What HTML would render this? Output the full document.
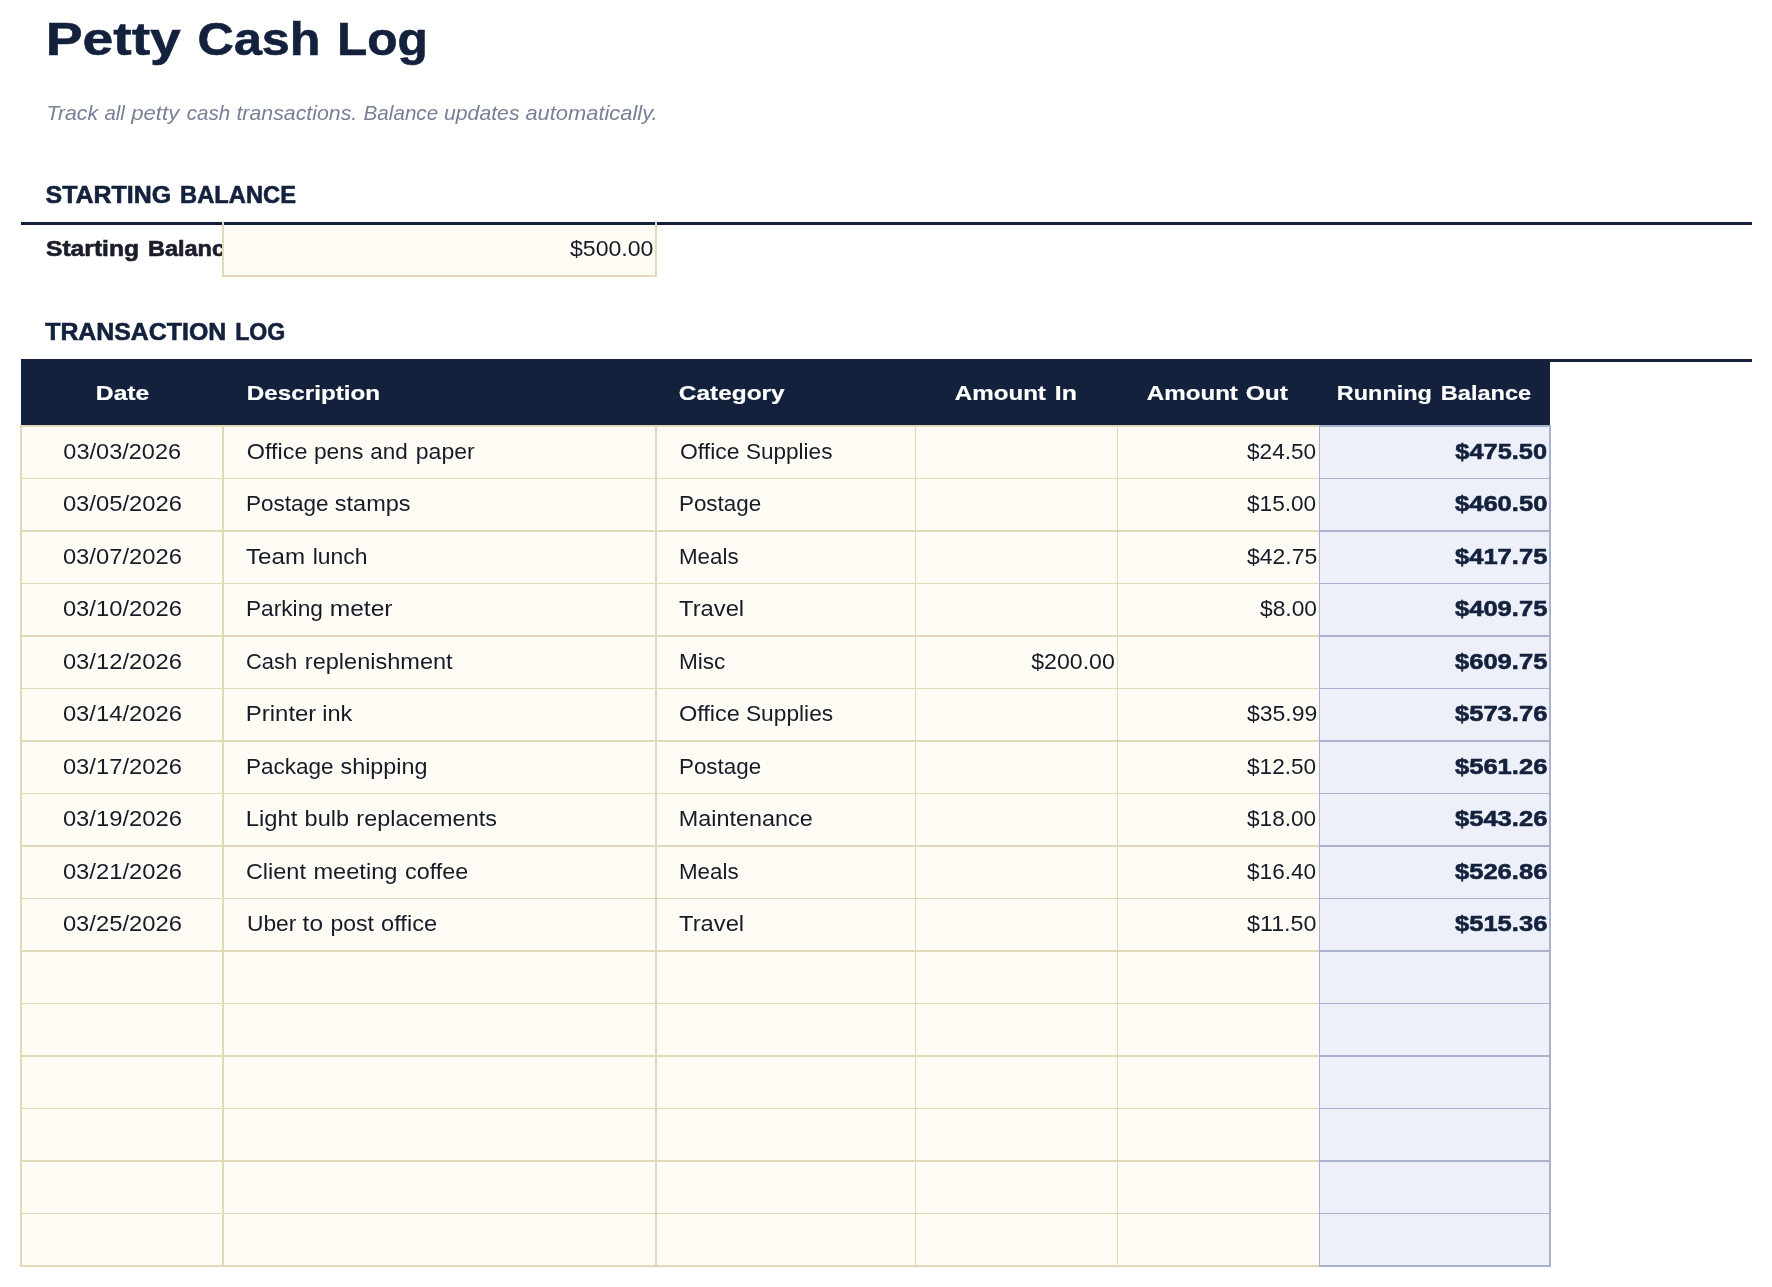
<!DOCTYPE html><html><head><meta charset="utf-8"><title>Petty Cash Log</title><style>
html,body{margin:0;padding:0;background:#fff;width:1772px;height:1287px;overflow:hidden}
svg{display:block;will-change:transform}text{font-family:"Liberation Sans", sans-serif;white-space:pre}
</style></head><body>
<svg width="1772" height="1287" viewBox="0 0 1772 1287" shape-rendering="crispEdges">
<defs><clipPath id="c1"><rect x="0" y="225" width="222" height="50"/></clipPath></defs>
<rect id="bg" x="0" y="0" width="1772" height="1287" fill="#fff"/>
<rect x="21" y="222" width="1731" height="3" fill="#14213d"/>
<rect x="224" y="225" width="431" height="50" fill="#fefcf4"/>
<rect x="222" y="222" width="2" height="55" fill="#e2d9b9"/>
<rect x="655" y="222" width="2" height="55" fill="#e2d9b9"/>
<rect x="222" y="275" width="435" height="2" fill="#e2d9b9"/>
<rect x="21" y="359" width="1731" height="3" fill="#14213d"/>
<rect x="21" y="359" width="1529" height="66" fill="#14213d"/>
<rect x="20" y="425" width="1300" height="842" fill="#fefcf4"/>
<rect x="1319" y="425" width="232" height="842" fill="#edf0f8"/>
<rect x="20" y="425" width="1299" height="2" fill="#e2d9b9"/>
<rect x="1319" y="425" width="232" height="2" fill="#a9b1cd"/>
<rect x="20" y="478" width="1299" height="1" fill="#e2d9b9"/>
<rect x="1319" y="478" width="232" height="1" fill="#a9b1cd"/>
<rect x="20" y="530" width="1299" height="2" fill="#e2d9b9"/>
<rect x="1319" y="530" width="232" height="2" fill="#a9b1cd"/>
<rect x="20" y="583" width="1299" height="1" fill="#e2d9b9"/>
<rect x="1319" y="583" width="232" height="1" fill="#a9b1cd"/>
<rect x="20" y="635" width="1299" height="2" fill="#e2d9b9"/>
<rect x="1319" y="635" width="232" height="2" fill="#a9b1cd"/>
<rect x="20" y="688" width="1299" height="1" fill="#e2d9b9"/>
<rect x="1319" y="688" width="232" height="1" fill="#a9b1cd"/>
<rect x="20" y="740" width="1299" height="2" fill="#e2d9b9"/>
<rect x="1319" y="740" width="232" height="2" fill="#a9b1cd"/>
<rect x="20" y="793" width="1299" height="1" fill="#e2d9b9"/>
<rect x="1319" y="793" width="232" height="1" fill="#a9b1cd"/>
<rect x="20" y="845" width="1299" height="2" fill="#e2d9b9"/>
<rect x="1319" y="845" width="232" height="2" fill="#a9b1cd"/>
<rect x="20" y="898" width="1299" height="1" fill="#e2d9b9"/>
<rect x="1319" y="898" width="232" height="1" fill="#a9b1cd"/>
<rect x="20" y="950" width="1299" height="2" fill="#e2d9b9"/>
<rect x="1319" y="950" width="232" height="2" fill="#a9b1cd"/>
<rect x="20" y="1003" width="1299" height="1" fill="#e2d9b9"/>
<rect x="1319" y="1003" width="232" height="1" fill="#a9b1cd"/>
<rect x="20" y="1055" width="1299" height="2" fill="#e2d9b9"/>
<rect x="1319" y="1055" width="232" height="2" fill="#a9b1cd"/>
<rect x="20" y="1108" width="1299" height="1" fill="#e2d9b9"/>
<rect x="1319" y="1108" width="232" height="1" fill="#a9b1cd"/>
<rect x="20" y="1160" width="1299" height="2" fill="#e2d9b9"/>
<rect x="1319" y="1160" width="232" height="2" fill="#a9b1cd"/>
<rect x="20" y="1213" width="1299" height="1" fill="#e2d9b9"/>
<rect x="1319" y="1213" width="232" height="1" fill="#a9b1cd"/>
<rect x="20" y="1265" width="1299" height="2" fill="#e2d9b9"/>
<rect x="1319" y="1265" width="232" height="2" fill="#a9b1cd"/>
<rect x="20" y="425" width="2" height="842" fill="#e2d9b9"/>
<rect x="222" y="425" width="2" height="842" fill="#e2d9b9"/>
<rect x="655" y="425" width="2" height="842" fill="#e2d9b9"/>
<rect x="915" y="425" width="1" height="842" fill="#e2d9b9"/>
<rect x="1117" y="425" width="1" height="842" fill="#e2d9b9"/>
<rect x="1319" y="425" width="1" height="842" fill="#a9b1cd"/>
<rect x="1549" y="425" width="2" height="842" fill="#a9b1cd"/>
<text x="45.69" y="55" font-size="47.02" textLength="135.16" lengthAdjust="spacingAndGlyphs" font-weight="bold" stroke="#14213d" stroke-width="0.6" fill="#14213d">Petty</text>
<text x="197.64" y="55" font-size="47.02" textLength="122.84" lengthAdjust="spacingAndGlyphs" font-weight="bold" stroke="#14213d" stroke-width="0.6" fill="#14213d">Cash</text>
<text x="337.01" y="55" font-size="47.02" textLength="90.89" lengthAdjust="spacingAndGlyphs" font-weight="bold" stroke="#14213d" stroke-width="0.6" fill="#14213d">Log</text>
<text x="46.63" y="120" font-size="19.59" textLength="51.45" lengthAdjust="spacingAndGlyphs" font-style="italic" fill="#788095">Track</text>
<text x="104.40" y="120" font-size="19.59" textLength="20.50" lengthAdjust="spacingAndGlyphs" font-style="italic" fill="#788095">all</text>
<text x="131.17" y="120" font-size="19.59" textLength="48.08" lengthAdjust="spacingAndGlyphs" font-style="italic" fill="#788095">petty</text>
<text x="186.81" y="120" font-size="19.59" textLength="43.28" lengthAdjust="spacingAndGlyphs" font-style="italic" fill="#788095">cash</text>
<text x="236.43" y="120" font-size="19.59" textLength="120.86" lengthAdjust="spacingAndGlyphs" font-style="italic" fill="#788095">transactions.</text>
<text x="363.61" y="120" font-size="19.59" textLength="74.55" lengthAdjust="spacingAndGlyphs" font-style="italic" fill="#788095">Balance</text>
<text x="444.02" y="120" font-size="19.59" textLength="75.47" lengthAdjust="spacingAndGlyphs" font-style="italic" fill="#788095">updates</text>
<text x="525.41" y="120" font-size="19.59" textLength="132.19" lengthAdjust="spacingAndGlyphs" font-style="italic" fill="#788095">automatically.</text>
<text x="45.59" y="203" font-size="23.51" textLength="125.54" lengthAdjust="spacingAndGlyphs" font-weight="bold" stroke="#14213d" stroke-width="0.6" fill="#14213d">STARTING</text>
<text x="180.13" y="203" font-size="23.51" textLength="115.83" lengthAdjust="spacingAndGlyphs" font-weight="bold" stroke="#14213d" stroke-width="0.6" fill="#14213d">BALANCE</text>
<text x="46.00" y="256" font-size="21.95" textLength="93.00" lengthAdjust="spacingAndGlyphs" font-weight="bold" stroke="#1b1e2a" stroke-width="0.6" fill="#1b1e2a" clip-path="url(#c1)">Starting</text>
<text x="147.93" y="256" font-size="21.95" textLength="90.22" lengthAdjust="spacingAndGlyphs" font-weight="bold" stroke="#1b1e2a" stroke-width="0.6" fill="#1b1e2a" clip-path="url(#c1)">Balance</text>
<text x="570.00" y="256" font-size="21.95" textLength="83.33" lengthAdjust="spacingAndGlyphs" fill="#161b27">$500.00</text>
<text x="45.21" y="340" font-size="23.51" textLength="180.99" lengthAdjust="spacingAndGlyphs" font-weight="bold" stroke="#14213d" stroke-width="0.6" fill="#14213d">TRANSACTION</text>
<text x="235.13" y="340" font-size="23.51" textLength="50.13" lengthAdjust="spacingAndGlyphs" font-weight="bold" stroke="#14213d" stroke-width="0.6" fill="#14213d">LOG</text>
<text x="95.82" y="400" font-size="20.9" textLength="53.51" lengthAdjust="spacingAndGlyphs" font-weight="bold" stroke="#ffffff" stroke-width="0.2" fill="#ffffff">Date</text>
<text x="246.84" y="400" font-size="20.9" textLength="133.23" lengthAdjust="spacingAndGlyphs" font-weight="bold" stroke="#ffffff" stroke-width="0.2" fill="#ffffff">Description</text>
<text x="678.83" y="400" font-size="20.9" textLength="105.83" lengthAdjust="spacingAndGlyphs" font-weight="bold" stroke="#ffffff" stroke-width="0.2" fill="#ffffff">Category</text>
<text x="954.85" y="400" font-size="20.9" textLength="91.05" lengthAdjust="spacingAndGlyphs" font-weight="bold" stroke="#ffffff" stroke-width="0.2" fill="#ffffff">Amount</text>
<text x="1054.81" y="400" font-size="20.9" textLength="22.06" lengthAdjust="spacingAndGlyphs" font-weight="bold" stroke="#ffffff" stroke-width="0.2" fill="#ffffff">In</text>
<text x="1146.85" y="400" font-size="20.9" textLength="91.05" lengthAdjust="spacingAndGlyphs" font-weight="bold" stroke="#ffffff" stroke-width="0.2" fill="#ffffff">Amount</text>
<text x="1245.83" y="400" font-size="20.9" textLength="42.13" lengthAdjust="spacingAndGlyphs" font-weight="bold" stroke="#ffffff" stroke-width="0.2" fill="#ffffff">Out</text>
<text x="1336.88" y="400" font-size="20.9" textLength="94.91" lengthAdjust="spacingAndGlyphs" font-weight="bold" stroke="#ffffff" stroke-width="0.2" fill="#ffffff">Running</text>
<text x="1440.87" y="400" font-size="20.9" textLength="90.27" lengthAdjust="spacingAndGlyphs" font-weight="bold" stroke="#ffffff" stroke-width="0.2" fill="#ffffff">Balance</text>
<text x="63.38" y="459" font-size="21.95" textLength="117.75" lengthAdjust="spacingAndGlyphs" fill="#161b27">03/03/2026</text>
<text x="246.73" y="459" font-size="21.95" textLength="60.70" lengthAdjust="spacingAndGlyphs" fill="#161b27">Office</text>
<text x="313.96" y="459" font-size="21.95" textLength="49.41" lengthAdjust="spacingAndGlyphs" fill="#161b27">pens</text>
<text x="370.36" y="459" font-size="21.95" textLength="37.44" lengthAdjust="spacingAndGlyphs" fill="#161b27">and</text>
<text x="415.81" y="459" font-size="21.95" textLength="58.83" lengthAdjust="spacingAndGlyphs" fill="#161b27">paper</text>
<text x="679.98" y="459" font-size="21.95" textLength="59.48" lengthAdjust="spacingAndGlyphs" fill="#161b27">Office</text>
<text x="745.92" y="459" font-size="21.95" textLength="86.51" lengthAdjust="spacingAndGlyphs" fill="#161b27">Supplies</text>
<text x="1247.00" y="459" font-size="21.95" textLength="69.11" lengthAdjust="spacingAndGlyphs" fill="#161b27">$24.50</text>
<text x="1455.35" y="459" font-size="21.95" textLength="91.66" lengthAdjust="spacingAndGlyphs" font-weight="bold" stroke="#14213d" stroke-width="0.6" fill="#14213d">$475.50</text>
<text x="62.92" y="511" font-size="21.95" textLength="118.95" lengthAdjust="spacingAndGlyphs" fill="#161b27">03/05/2026</text>
<text x="245.95" y="511" font-size="21.95" textLength="82.51" lengthAdjust="spacingAndGlyphs" fill="#161b27">Postage</text>
<text x="334.82" y="511" font-size="21.95" textLength="75.80" lengthAdjust="spacingAndGlyphs" fill="#161b27">stamps</text>
<text x="678.96" y="511" font-size="21.95" textLength="82.25" lengthAdjust="spacingAndGlyphs" fill="#161b27">Postage</text>
<text x="1247.00" y="511" font-size="21.95" textLength="69.11" lengthAdjust="spacingAndGlyphs" fill="#161b27">$15.00</text>
<text x="1455.00" y="511" font-size="21.95" textLength="92.36" lengthAdjust="spacingAndGlyphs" font-weight="bold" stroke="#14213d" stroke-width="0.6" fill="#14213d">$460.50</text>
<text x="62.92" y="564" font-size="21.95" textLength="118.95" lengthAdjust="spacingAndGlyphs" fill="#161b27">03/07/2026</text>
<text x="246.00" y="564" font-size="21.95" textLength="59.11" lengthAdjust="spacingAndGlyphs" fill="#161b27">Team</text>
<text x="312.65" y="564" font-size="21.95" textLength="54.78" lengthAdjust="spacingAndGlyphs" fill="#161b27">lunch</text>
<text x="678.96" y="564" font-size="21.95" textLength="59.68" lengthAdjust="spacingAndGlyphs" fill="#161b27">Meals</text>
<text x="1247.00" y="564" font-size="21.95" textLength="70.16" lengthAdjust="spacingAndGlyphs" fill="#161b27">$42.75</text>
<text x="1455.00" y="564" font-size="21.95" textLength="92.36" lengthAdjust="spacingAndGlyphs" font-weight="bold" stroke="#14213d" stroke-width="0.6" fill="#14213d">$417.75</text>
<text x="62.92" y="616" font-size="21.95" textLength="118.95" lengthAdjust="spacingAndGlyphs" fill="#161b27">03/10/2026</text>
<text x="245.93" y="616" font-size="21.95" textLength="77.00" lengthAdjust="spacingAndGlyphs" fill="#161b27">Parking</text>
<text x="329.65" y="616" font-size="21.95" textLength="62.91" lengthAdjust="spacingAndGlyphs" fill="#161b27">meter</text>
<text x="679.00" y="616" font-size="21.95" textLength="65.14" lengthAdjust="spacingAndGlyphs" fill="#161b27">Travel</text>
<text x="1260.00" y="616" font-size="21.95" textLength="56.94" lengthAdjust="spacingAndGlyphs" fill="#161b27">$8.00</text>
<text x="1455.00" y="616" font-size="21.95" textLength="92.36" lengthAdjust="spacingAndGlyphs" font-weight="bold" stroke="#14213d" stroke-width="0.6" fill="#14213d">$409.75</text>
<text x="62.92" y="669" font-size="21.95" textLength="118.95" lengthAdjust="spacingAndGlyphs" fill="#161b27">03/12/2026</text>
<text x="246.00" y="669" font-size="21.95" textLength="51.19" lengthAdjust="spacingAndGlyphs" fill="#161b27">Cash</text>
<text x="304.87" y="669" font-size="21.95" textLength="147.78" lengthAdjust="spacingAndGlyphs" fill="#161b27">replenishment</text>
<text x="678.94" y="669" font-size="21.95" textLength="46.49" lengthAdjust="spacingAndGlyphs" fill="#161b27">Misc</text>
<text x="1031.18" y="669" font-size="21.95" textLength="83.68" lengthAdjust="spacingAndGlyphs" fill="#161b27">$200.00</text>
<text x="1455.00" y="669" font-size="21.95" textLength="92.36" lengthAdjust="spacingAndGlyphs" font-weight="bold" stroke="#14213d" stroke-width="0.6" fill="#14213d">$609.75</text>
<text x="62.92" y="721" font-size="21.95" textLength="118.95" lengthAdjust="spacingAndGlyphs" fill="#161b27">03/14/2026</text>
<text x="245.82" y="721" font-size="21.95" textLength="70.54" lengthAdjust="spacingAndGlyphs" fill="#161b27">Printer</text>
<text x="322.18" y="721" font-size="21.95" textLength="29.98" lengthAdjust="spacingAndGlyphs" fill="#161b27">ink</text>
<text x="678.93" y="721" font-size="21.95" textLength="61.04" lengthAdjust="spacingAndGlyphs" fill="#161b27">Office</text>
<text x="745.96" y="721" font-size="21.95" textLength="87.20" lengthAdjust="spacingAndGlyphs" fill="#161b27">Supplies</text>
<text x="1247.00" y="721" font-size="21.95" textLength="70.16" lengthAdjust="spacingAndGlyphs" fill="#161b27">$35.99</text>
<text x="1455.00" y="721" font-size="21.95" textLength="92.36" lengthAdjust="spacingAndGlyphs" font-weight="bold" stroke="#14213d" stroke-width="0.6" fill="#14213d">$573.76</text>
<text x="62.92" y="774" font-size="21.95" textLength="118.95" lengthAdjust="spacingAndGlyphs" fill="#161b27">03/17/2026</text>
<text x="245.95" y="774" font-size="21.95" textLength="87.68" lengthAdjust="spacingAndGlyphs" fill="#161b27">Package</text>
<text x="340.47" y="774" font-size="21.95" textLength="87.09" lengthAdjust="spacingAndGlyphs" fill="#161b27">shipping</text>
<text x="678.96" y="774" font-size="21.95" textLength="82.25" lengthAdjust="spacingAndGlyphs" fill="#161b27">Postage</text>
<text x="1247.00" y="774" font-size="21.95" textLength="69.11" lengthAdjust="spacingAndGlyphs" fill="#161b27">$12.50</text>
<text x="1455.00" y="774" font-size="21.95" textLength="92.36" lengthAdjust="spacingAndGlyphs" font-weight="bold" stroke="#14213d" stroke-width="0.6" fill="#14213d">$561.26</text>
<text x="62.92" y="826" font-size="21.95" textLength="118.95" lengthAdjust="spacingAndGlyphs" fill="#161b27">03/19/2026</text>
<text x="245.83" y="826" font-size="21.95" textLength="51.59" lengthAdjust="spacingAndGlyphs" fill="#161b27">Light</text>
<text x="304.64" y="826" font-size="21.95" textLength="44.49" lengthAdjust="spacingAndGlyphs" fill="#161b27">bulb</text>
<text x="356.38" y="826" font-size="21.95" textLength="140.48" lengthAdjust="spacingAndGlyphs" fill="#161b27">replacements</text>
<text x="678.87" y="826" font-size="21.95" textLength="133.80" lengthAdjust="spacingAndGlyphs" fill="#161b27">Maintenance</text>
<text x="1247.00" y="826" font-size="21.95" textLength="69.11" lengthAdjust="spacingAndGlyphs" fill="#161b27">$18.00</text>
<text x="1455.00" y="826" font-size="21.95" textLength="92.36" lengthAdjust="spacingAndGlyphs" font-weight="bold" stroke="#14213d" stroke-width="0.6" fill="#14213d">$543.26</text>
<text x="62.92" y="879" font-size="21.95" textLength="118.95" lengthAdjust="spacingAndGlyphs" fill="#161b27">03/21/2026</text>
<text x="245.93" y="879" font-size="21.95" textLength="59.98" lengthAdjust="spacingAndGlyphs" fill="#161b27">Client</text>
<text x="313.47" y="879" font-size="21.95" textLength="83.94" lengthAdjust="spacingAndGlyphs" fill="#161b27">meeting</text>
<text x="404.96" y="879" font-size="21.95" textLength="63.27" lengthAdjust="spacingAndGlyphs" fill="#161b27">coffee</text>
<text x="678.96" y="879" font-size="21.95" textLength="59.68" lengthAdjust="spacingAndGlyphs" fill="#161b27">Meals</text>
<text x="1247.00" y="879" font-size="21.95" textLength="69.11" lengthAdjust="spacingAndGlyphs" fill="#161b27">$16.40</text>
<text x="1455.00" y="879" font-size="21.95" textLength="92.36" lengthAdjust="spacingAndGlyphs" font-weight="bold" stroke="#14213d" stroke-width="0.6" fill="#14213d">$526.86</text>
<text x="62.92" y="931" font-size="21.95" textLength="118.95" lengthAdjust="spacingAndGlyphs" fill="#161b27">03/25/2026</text>
<text x="246.96" y="931" font-size="21.95" textLength="49.47" lengthAdjust="spacingAndGlyphs" fill="#161b27">Uber</text>
<text x="302.64" y="931" font-size="21.95" textLength="20.38" lengthAdjust="spacingAndGlyphs" fill="#161b27">to</text>
<text x="330.40" y="931" font-size="21.95" textLength="43.40" lengthAdjust="spacingAndGlyphs" fill="#161b27">post</text>
<text x="381.11" y="931" font-size="21.95" textLength="55.95" lengthAdjust="spacingAndGlyphs" fill="#161b27">office</text>
<text x="679.00" y="931" font-size="21.95" textLength="65.14" lengthAdjust="spacingAndGlyphs" fill="#161b27">Travel</text>
<text x="1247.00" y="931" font-size="21.95" textLength="69.51" lengthAdjust="spacingAndGlyphs" fill="#161b27">$11.50</text>
<text x="1455.00" y="931" font-size="21.95" textLength="92.36" lengthAdjust="spacingAndGlyphs" font-weight="bold" stroke="#14213d" stroke-width="0.6" fill="#14213d">$515.36</text>
</svg></body></html>
